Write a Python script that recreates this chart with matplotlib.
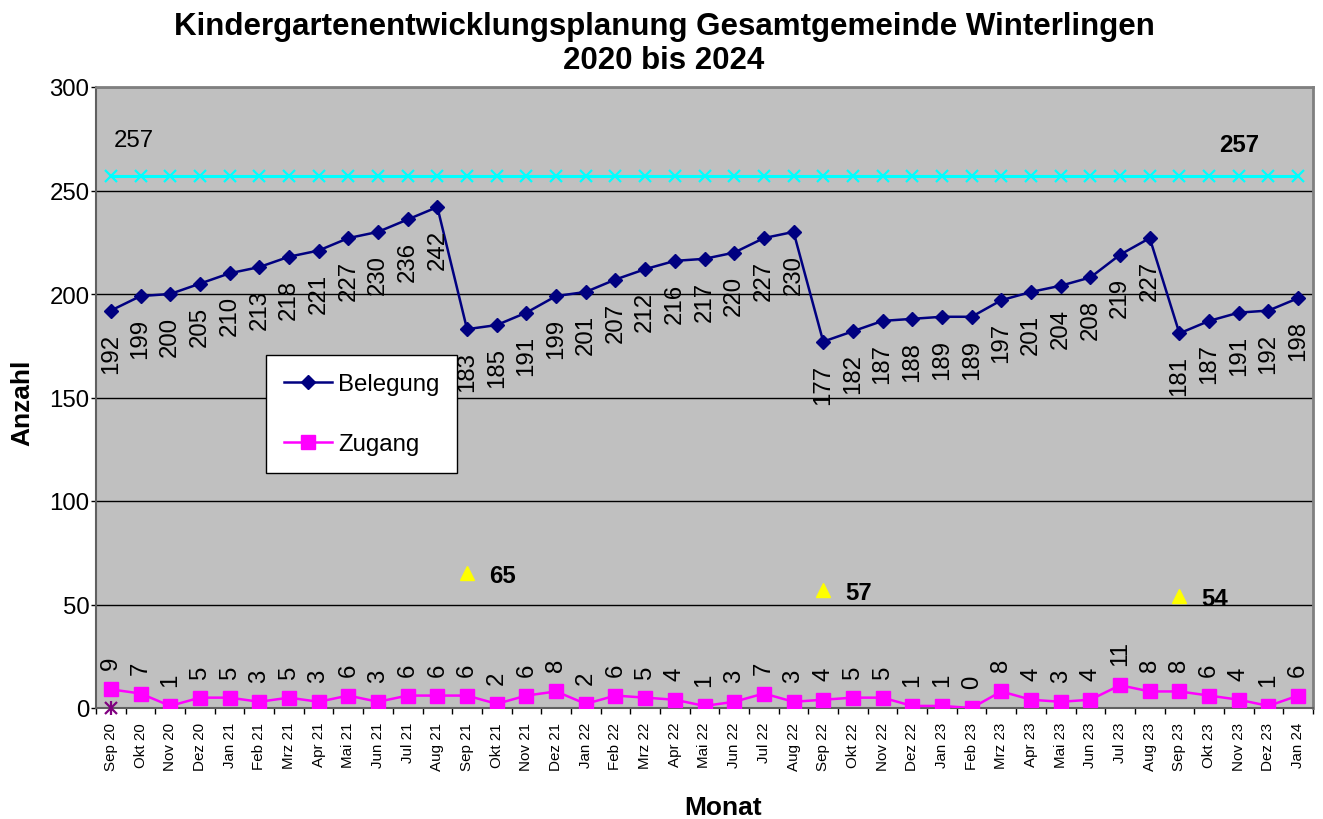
import matplotlib
matplotlib.use('Agg')
import matplotlib.pyplot as plt
import numpy as np

months = ['Sep 20', 'Okt 20', 'Nov 20', 'Dez 20', 'Jan 21', 'Feb 21', 'Mrz 21', 'Apr 21',
          'Mai 21', 'Jun 21', 'Jul 21', 'Aug 21', 'Sep 21', 'Okt 21', 'Nov 21', 'Dez 21',
          'Jan 22', 'Feb 22', 'Mrz 22', 'Apr 22', 'Mai 22', 'Jun 22', 'Jul 22', 'Aug 22',
          'Sep 22', 'Okt 22', 'Nov 22', 'Dez 22', 'Jan 23', 'Feb 23', 'Mrz 23', 'Apr 23',
          'Mai 23', 'Jun 23', 'Jul 23', 'Aug 23', 'Sep 23', 'Okt 23', 'Nov 23', 'Dez 23',
          'Jan 24']
belegung = [192, 199, 200, 205, 210, 213, 218, 221, 227, 230, 236, 242,
            183, 185, 191, 199, 201, 207, 212, 216, 217, 220, 227, 230,
            177, 182, 187, 188, 189, 189, 197, 201, 204, 208, 219, 227,
            181, 187, 191, 192, 198]
zugang = [9, 7, 1, 5, 5, 3, 5, 3, 6, 3, 6, 6,
          6, 2, 6, 8, 2, 6, 5, 4, 1, 3, 7, 3,
          4, 5, 5, 1, 1, 0, 8, 4, 3, 4, 11, 8,
          8, 6, 4, 1, 6]
kapazitaet = [257, 257, 257, 257, 257, 257, 257, 257, 257, 257, 257, 257,
              257, 257, 257, 257, 257, 257, 257, 257, 257, 257, 257, 257,
              257, 257, 257, 257, 257, 257, 257, 257, 257, 257, 257, 257,
              257, 257, 257, 257, 257]
neu_months = ['Sep 21', 'Sep 22', 'Sep 23']
neu_values = [65, 57, 54]
extra_months = ['Sep 20']
extra_values = [0]
kap_label_months = ['Sep 20', 'Nov 23']
kap_label_bold = [False, True]

plt.rcParams['font.family'] = ['Liberation Sans', 'DejaVu Sans']

W, H = 1323, 820
fig = plt.figure(figsize=(W / 100, H / 100), dpi=100)
ax = fig.add_axes([96 / W, 1 - 709 / H, 1217 / W, 621 / H])
ax.set_facecolor('#C0C0C0')

x = np.arange(len(months))
PX = 0.72  # points per pixel

ax.plot(x, kapazitaet, color='#00FFFF', lw=2.2, marker='x', ms=8.5, mew=1.6, zorder=3)
ax.plot(x, belegung, color='#000080', lw=1.8, marker='D', ms=7, zorder=4, label='Belegung')
ax.plot(x, zugang, color='#FF00FF', lw=1.8, marker='s', ms=10.5, zorder=4, label='Zugang')

nx = [months.index(m) for m in neu_months]
ax.plot(nx, neu_values, linestyle='none', marker='^', color='#FFFF00', ms=10, zorder=4)
ex = [months.index(m) for m in extra_months]
ax.plot(ex, extra_values, linestyle='none', marker='x', color='#800080', ms=9, mew=1.6, zorder=5, clip_on=False)
ax.plot(ex, extra_values, linestyle='none', marker='|', color='#800080', ms=10, mew=1.6, zorder=5, clip_on=False)

fs = 17.3
for xi, v in zip(x, belegung):
    ax.annotate(str(v), (xi, v), xytext=(0, -22 * PX), textcoords='offset points',
                rotation=90, ha='center', va='top', fontsize=fs, zorder=6)
for xi, v in zip(x, zugang):
    ax.annotate(str(v), (xi, v), xytext=(0, 20 * PX), textcoords='offset points',
                rotation=90, ha='center', va='bottom', fontsize=fs, zorder=6)
for xi, v in zip(nx, neu_values):
    ax.annotate(str(v), (xi, v), xytext=(22 * PX, -2 * PX), textcoords='offset points',
                ha='left', va='center', fontsize=fs, fontweight='bold', zorder=6)
for m, b in zip(kap_label_months, kap_label_bold):
    xi = months.index(m)
    v = kapazitaet[xi]
    dx = 23 if not b else 0
    dy = 36 if not b else 32
    ax.annotate(str(v), (xi, v), xytext=(dx * PX, dy * PX), textcoords='offset points',
                ha='center', va='center', fontsize=fs,
                fontweight='bold' if b else 'normal', zorder=6)

ax.set_xlim(-0.5, len(months) - 0.5)
ax.set_ylim(0, 300)
ax.set_yticks(np.arange(0, 301, 50))
ax.yaxis.grid(True, color='#000000', lw=1.0)
ax.set_axisbelow(True)
ax.tick_params(axis='y', labelsize=fs, length=5 * PX, width=1, pad=1, color='#000000')

ax.set_xticks(x)
ax.set_xticklabels(months, rotation=90, fontsize=10.9)
ax.set_xticks(np.arange(-0.5, len(months), 1), minor=True)
ax.tick_params(axis='x', which='major', length=0, pad=10)
ax.tick_params(axis='x', which='minor', length=6 * PX, width=1, direction='out', color='#000000')

for s in ['top', 'right']:
    ax.spines[s].set_color('#808080')
    ax.spines[s].set_linewidth(2)
for s in ['left', 'bottom']:
    ax.spines[s].set_color('#606060')
    ax.spines[s].set_linewidth(1.5)

leg = ax.legend(loc='upper left', bbox_to_anchor=((266 - 96) / 1217, 1 - (356 - 88) / 621),
                borderaxespad=0, fontsize=fs, frameon=True, fancybox=False,
                edgecolor='#000000', framealpha=1, facecolor='white',
                handlelength=2.0, handletextpad=0.25, labelspacing=1.6, borderpad=0.75)
leg.get_frame().set_linewidth(1)
leg.set_zorder(7)

fig.text(664 / W, 1 - 44 / H, 'Kindergartenentwicklungsplanung Gesamtgemeinde Winterlingen\n2020 bis 2024',
         ha='center', va='center', fontsize=22.5, fontweight='bold', linespacing=1.2)
fig.text(22 / W, 1 - 403 / H, 'Anzahl', rotation=90, ha='center', va='center',
         fontsize=19, fontweight='bold')
fig.text(723 / W, 1 - 808 / H, 'Monat', ha='center', va='center', fontsize=19, fontweight='bold')

fig.savefig('out.png', dpi=100)
